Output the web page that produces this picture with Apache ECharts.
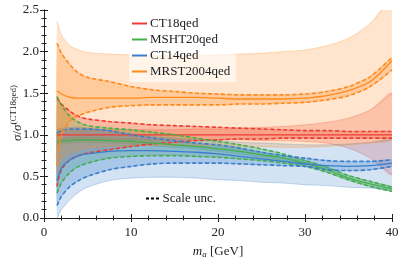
<!DOCTYPE html>
<html><head><meta charset="utf-8">
<script src="https://cdn.jsdelivr.net/npm/echarts@6/dist/echarts.min.js"></script>
<style>html,body{margin:0;padding:0;background:#fff}#c{width:399px;height:263px}</style>
</head><body><div id="c"></div>
<script>
const xs = [1.5, 2, 3, 4, 5, 7.5, 10, 12.5, 15, 17.5, 20, 22.5, 25, 27.5, 30, 32.5, 35, 37.5, 40];
const xTicks = [0, 10, 20, 30, 40];
const yTicks = [0.0, 0.5, 1.0, 1.5, 2.0, 2.5];

// CT18qed
const ct18Central = [1, 1, 1, 1, 1, 1, 1, 1, 1, 1, 1, 1, 1, 1, 1, 1, 1, 1, 1];
const ct18ScaleHi = [1.44, 1.37, 1.28, 1.22, 1.19, 1.16, 1.14, 1.12, 1.11, 1.10, 1.09, 1.08, 1.07, 1.06, 1.05, 1.05, 1.04, 1.04, 1.04];
const ct18ScaleLo = [0.38, 0.58, 0.70, 0.75, 0.78, 0.82, 0.86, 0.89, 0.91, 0.93, 0.94, 0.95, 0.95, 0.96, 0.96, 0.96, 0.96, 0.96, 0.96];
const ct18PdfHi = [1.06, 1.06, 1.06, 1.06, 1.06, 1.06, 1.06, 1.06, 1.06, 1.07, 1.07, 1.08, 1.09, 1.10, 1.12, 1.15, 1.20, 1.30, 1.50];
const ct18PdfLo = [0.94, 0.94, 0.94, 0.94, 0.94, 0.94, 0.94, 0.94, 0.94, 0.94, 0.94, 0.94, 0.93, 0.93, 0.92, 0.90, 0.84, 0.72, 0.52];

// MSHT20qed
const mshtCentral = [0.90, 0.92, 0.93, 0.94, 0.94, 0.93, 0.92, 0.90, 0.88, 0.86, 0.83, 0.80, 0.76, 0.72, 0.66, 0.58, 0.48, 0.41, 0.35];
const mshtScaleHi = [1.46, 1.36, 1.22, 1.15, 1.11, 1.08, 1.06, 1.03, 1.00, 0.96, 0.92, 0.88, 0.83, 0.77, 0.69, 0.61, 0.51, 0.44, 0.37];
const mshtScaleLo = [0.30, 0.42, 0.55, 0.62, 0.66, 0.72, 0.74, 0.75, 0.75, 0.74, 0.73, 0.71, 0.69, 0.66, 0.62, 0.55, 0.46, 0.38, 0.32];
const mshtPdfHi = [0.93, 0.95, 0.96, 0.97, 0.97, 0.96, 0.95, 0.93, 0.91, 0.89, 0.86, 0.83, 0.79, 0.75, 0.69, 0.61, 0.51, 0.44, 0.38];
const mshtPdfLo = [0.87, 0.89, 0.90, 0.91, 0.91, 0.90, 0.89, 0.87, 0.85, 0.83, 0.80, 0.77, 0.73, 0.69, 0.63, 0.55, 0.45, 0.38, 0.32];

// CT14qed
const ct14Central = [0.45, 0.60, 0.70, 0.75, 0.77, 0.80, 0.81, 0.81, 0.80, 0.79, 0.77, 0.74, 0.71, 0.68, 0.65, 0.63, 0.62, 0.63, 0.66];
const ct14ScaleHi = [1.02, 1.05, 1.07, 1.07, 1.07, 1.05, 1.00, 0.96, 0.93, 0.90, 0.88, 0.84, 0.79, 0.75, 0.72, 0.69, 0.68, 0.68, 0.70];
const ct14ScaleLo = [0.15, 0.26, 0.38, 0.45, 0.50, 0.58, 0.62, 0.65, 0.66, 0.66, 0.66, 0.65, 0.64, 0.63, 0.62, 0.58, 0.57, 0.58, 0.62];
const ct14PdfHi = [1.06, 1.08, 1.09, 1.09, 1.08, 1.05, 1.01, 0.98, 0.96, 0.94, 0.93, 0.91, 0.90, 0.89, 0.88, 0.88, 0.89, 0.91, 0.94];
const ct14PdfLo = [0.00, 0.10, 0.22, 0.31, 0.37, 0.45, 0.48, 0.49, 0.49, 0.48, 0.46, 0.45, 0.43, 0.42, 0.40, 0.39, 0.37, 0.36, 0.35];

// MRST2004qed
const mrstCentral = [1.53, 1.49, 1.45, 1.44, 1.44, 1.44, 1.44, 1.45, 1.45, 1.45, 1.44, 1.43, 1.43, 1.43, 1.44, 1.47, 1.53, 1.64, 1.89];
const mrstScaleHi = [2.10, 1.98, 1.84, 1.74, 1.69, 1.64, 1.58, 1.54, 1.52, 1.50, 1.49, 1.48, 1.48, 1.48, 1.49, 1.52, 1.58, 1.70, 1.93];
const mrstScaleLo = [0.64, 0.98, 1.17, 1.23, 1.27, 1.33, 1.35, 1.36, 1.36, 1.36, 1.36, 1.37, 1.37, 1.38, 1.39, 1.42, 1.47, 1.58, 1.78];
const mrstPdfHi = [2.36, 2.20, 2.07, 2.02, 1.99, 1.97, 1.96, 1.95, 1.95, 1.95, 1.96, 1.97, 1.98, 2.00, 2.02, 2.07, 2.16, 2.34, 2.65];
const mrstPdfLo = [0.55, 0.70, 0.78, 0.82, 0.84, 0.86, 0.87, 0.87, 0.87, 0.87, 0.87, 0.86, 0.86, 0.85, 0.85, 0.86, 0.88, 0.90, 0.95];

const names = ['CT18qed', 'MSHT20qed', 'CT14qed', 'MRST2004qed'];
const colors = ['#ee3b36', '#45b048', '#3a7fcb', '#ff8a1c'];
const sets = [
  [ct18Central, ct18ScaleHi, ct18ScaleLo, ct18PdfHi, ct18PdfLo],
  [mshtCentral, mshtScaleHi, mshtScaleLo, mshtPdfHi, mshtPdfLo],
  [ct14Central, ct14ScaleHi, ct14ScaleLo, ct14PdfHi, ct14PdfLo],
  [mrstCentral, mrstScaleHi, mrstScaleLo, mrstPdfHi, mrstPdfLo]
];

const FONT = '"Liberation Serif", "DejaVu Serif", serif';
const SM = 0.3;
const pairs = arr => xs.map((x, i) => [x, arr[i]]);

function band(lo, hi, color, op) {
  return {
    type: 'custom', clip: true, silent: true, data: [[xs[0], lo[0]]],
    renderItem: function (params, api) {
      const top = xs.map((x, i) => api.coord([x, hi[i]]));
      const bot = xs.map((x, i) => api.coord([x, lo[i]]));
      const poly = top.concat(bot.slice().reverse());
      return {
        type: 'group', children: [
          { type: 'polygon', shape: { points: poly, smooth: SM }, style: { fill: color, opacity: op } },
          { type: 'polyline', shape: { points: top, smooth: SM }, style: { stroke: color, lineWidth: 0.6, opacity: 0.5, fill: null } },
          { type: 'polyline', shape: { points: bot, smooth: SM }, style: { stroke: color, lineWidth: 0.6, opacity: 0.5, fill: null } }
        ]
      };
    }
  };
}

const series = [];
sets.forEach((s, k) => {
  series.push(band(s[4], s[3], colors[k], 0.22));
  series.push(band(s[2], s[1], colors[k], 0.28));
});
sets.forEach((s, k) => {
  [s[1], s[2]].forEach(arr => series.push({ type: 'line', data: pairs(arr), symbol: 'none', smooth: SM, silent: true,
    lineStyle: { width: 1.6, color: colors[k], type: [4, 2.5] } }));
  series.push({ name: names[k], type: 'line', data: pairs(s[0]), symbol: 'none', smooth: SM, silent: true,
    color: colors[k], lineStyle: { width: 1.3, color: colors[k] } });
});
series.push({ name: 'Scale unc.', type: 'line', data: [], symbol: 'none', color: '#000', lineStyle: { width: 1.5, color: '#000' } });

const axisCommon = {
  min: 0, axisLine: { show: true, lineStyle: { color: '#222', width: 1 } },
  axisTick: { show: true, inside: true, length: 4, lineStyle: { color: '#222' } },
  minorTick: { show: true, splitNumber: 5, length: 2.5, lineStyle: { color: '#222' } },
  splitLine: { show: false }
};

const chart = echarts.init(document.getElementById('c'), null, { renderer: 'canvas' });
chart.setOption({
  animation: false,
  backgroundColor: '#fff',
  grid: { left: 44, right: 7, top: 10, bottom: 45, outerBoundsMode: 'none', containLabel: false },
  graphic: [{
    type: 'text', x: 18, y: 113, rotation: Math.PI / 2, silent: true,
    style: {
      text: '{i|σ}{n|/}{i|σ}{s|(CT18qed)}', align: 'center', verticalAlign: 'middle',
      rich: {
        i: { fontFamily: FONT, fontStyle: 'italic', fontSize: 13, fill: '#222' },
        n: { fontFamily: FONT, fontSize: 13, fill: '#222' },
        s: { fontFamily: FONT, fontSize: 9, fill: '#222', padding: [0, 0, 8, 0] }
      }
    }
  }],
  xAxis: [
    Object.assign({}, axisCommon, { type: 'value', max: 40, interval: 10, position: 'bottom',
      axisLabel: { color: '#222', fontFamily: FONT, fontSize: 13, margin: 8, formatter: v => xTicks.includes(v) ? String(v) : '' },
      name: '{i|m}{s|a} {n|[GeV]}', nameLocation: 'middle', nameGap: 27,
      nameTextStyle: { rich: { i: { fontFamily: FONT, fontStyle: 'italic', fontSize: 13, color: '#222' },
        s: { fontFamily: FONT, fontStyle: 'italic', fontSize: 9, color: '#222', padding: [5, 0, 0, 0] },
        n: { fontFamily: FONT, fontSize: 13, color: '#222' } } } }),
    Object.assign({}, axisCommon, { type: 'value', max: 40, interval: 10, position: 'top', axisLabel: { show: false } })
  ],
  yAxis: [
    Object.assign({}, axisCommon, { type: 'value', max: 2.5, interval: 0.5, position: 'left',
      axisLabel: { color: '#222', fontFamily: FONT, fontSize: 13, margin: 5, formatter: v => yTicks.includes(v) ? v.toFixed(1) : '' } }),
    Object.assign({}, axisCommon, { type: 'value', max: 2.5, interval: 0.5, position: 'right', axisLabel: { show: false } })
  ],
  legend: [
    { data: names, orient: 'vertical', left: 129, top: 13, itemWidth: 15, itemHeight: 2, icon: 'rect', itemGap: 3,
      padding: [4, 6, 4, 3], backgroundColor: 'rgba(255,255,255,0.6)', selectedMode: false,
      textStyle: { fontFamily: FONT, fontSize: 13, color: '#222', padding: [0, 0, 0, -2] } },
    { data: ['Scale unc.'], left: 146, top: 192, itemWidth: 14, itemHeight: 2, itemGap: 3, padding: 0, selectedMode: false,
      icon: 'path://M0,0h3v2h-3z M5,0h3v2h-3z M10,0h3v2h-3z',
      textStyle: { fontFamily: FONT, fontSize: 13, color: '#222', padding: [0, 0, 0, -2] } }
  ],
  series: series
});
</script></body></html>
